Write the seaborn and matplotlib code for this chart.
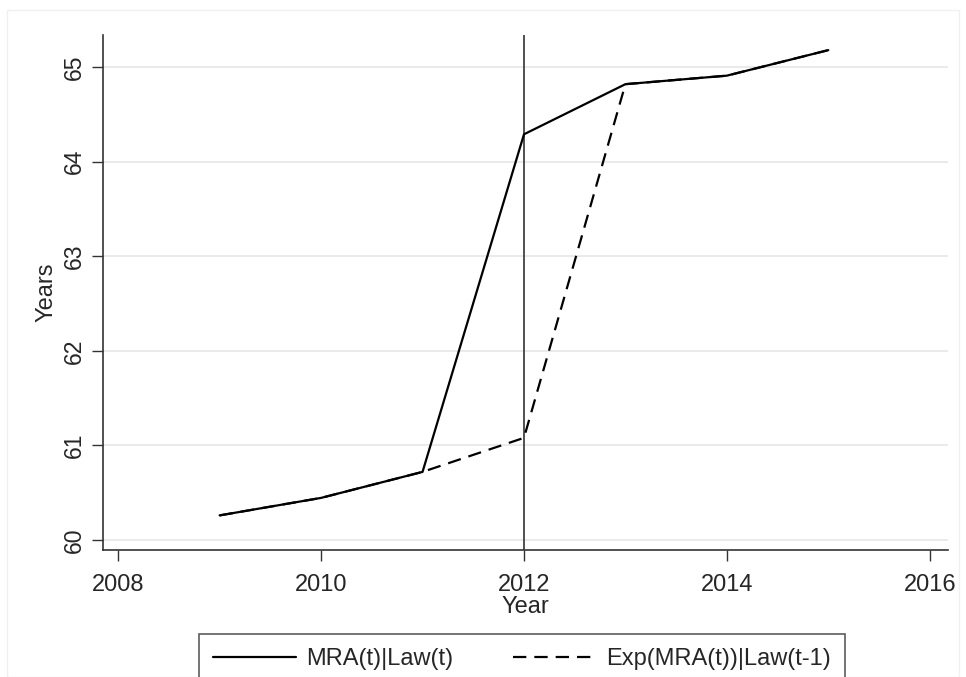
import matplotlib
matplotlib.use("Agg")
import matplotlib.pyplot as plt
import seaborn as sns
import pandas as pd
from matplotlib.patches import Rectangle
from matplotlib.lines import Line2D

years = [2009, 2010, 2011, 2012, 2013, 2014, 2015]
mra_law = [60.26, 60.445, 60.72, 64.29, 64.82, 64.91, 65.18]
exp_mra_law_lag = [60.26, 60.445, 60.72, 61.08, 64.82, 64.91, 65.18]
series_names = ["MRA(t)|Law(t)", "Exp(MRA(t))|Law(t-1)"]
x_ticks = [2008, 2010, 2012, 2014, 2016]
y_ticks = [60, 61, 62, 63, 64, 65]
reform_year = 2012

df = pd.DataFrame({
    "Year": years * 2,
    "Years": mra_law + exp_mra_law_lag,
    "series": [series_names[0]] * len(years) + [series_names[1]] * len(years),
})

sns.set_style("white")
plt.rcParams["font.family"] = ["Liberation Sans", "DejaVu Sans"]

fig = plt.figure(figsize=(9.66, 6.77), dpi=100)
ax = fig.add_axes([103 / 966, 1 - 550 / 677, (948 - 103) / 966, (550 - 35) / 677])

for yt in y_ticks:
    ax.axhline(yt, color="#e6e6e6", lw=1.2, zorder=0)

ax.axvline(reform_year, color="#333333", lw=1.2, zorder=1)

sns.lineplot(data=df, x="Year", y="Years", style="series", style_order=series_names,
             dashes={series_names[0]: "", series_names[1]: (6, 3.6)},
             color="black", lw=1.6, ax=ax, legend=False, zorder=3)

ax.set_xlim(2007.85, 2016.18)
ax.set_ylim(59.894, 65.34)
ax.set_xticks(x_ticks)
ax.set_yticks(y_ticks)
ax.set_yticklabels([str(v) for v in y_ticks], rotation=90, va="center")
ax.tick_params(axis="both", direction="out", length=8, width=1.0, color="#333333",
               left=True, bottom=True)
ax.tick_params(axis="y", labelsize=16.5, pad=4)
ax.tick_params(axis="x", labelsize=17, pad=9)
for s in ["top", "right"]:
    ax.spines[s].set_visible(False)
for s in ["left", "bottom"]:
    ax.spines[s].set_color("#333333")
    ax.spines[s].set_linewidth(1.2)

ax.set_xlabel("Year", fontsize=17, labelpad=0)
ax.set_ylabel("Years", fontsize=17, labelpad=4)

handles = [Line2D([], [], color="black", lw=1.6),
           Line2D([], [], color="black", lw=1.6, dashes=(6, 3.6))]
leg = fig.legend(handles, series_names, loc="upper center",
                 bbox_to_anchor=(522 / 966, 1 - 634 / 677), ncol=2, frameon=True,
                 fancybox=False, edgecolor="#333333", fontsize=17,
                 handlelength=3.5, handletextpad=0.45, columnspacing=2.5,
                 borderpad=0.6, borderaxespad=0)
leg.get_frame().set_linewidth(1.2)

fig.patches.append(Rectangle((7 / 966, 0), (959 - 7) / 966, 1 - 10 / 677,
                             transform=fig.transFigure, fill=False,
                             edgecolor="#f0f0f0", lw=1))

fig.savefig("out.png", dpi=100)
